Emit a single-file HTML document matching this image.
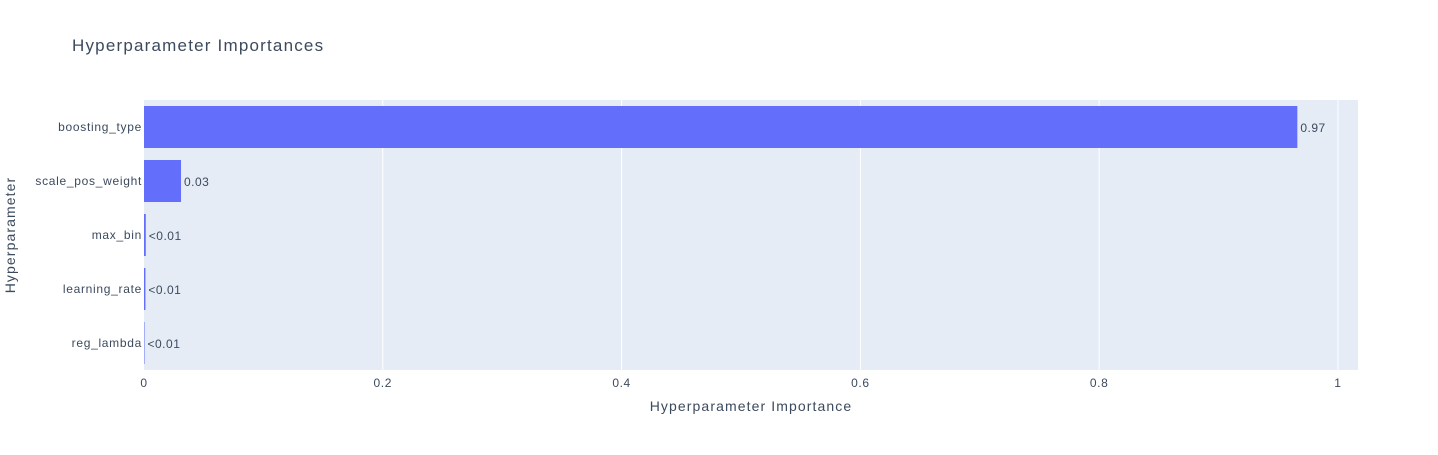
<!DOCTYPE html>
<html><head><meta charset="utf-8"><style>
body{margin:0;background:#fff;font-family:"Liberation Sans",Arial,sans-serif;}
svg text{font-family:"Liberation Sans",Arial,sans-serif;fill:#3c4a5e;}
</style></head><body>
<svg id="chart" width="1438" height="450" xmlns="http://www.w3.org/2000/svg">
<rect width="1438" height="450" fill="#fff"/>
<text x="72" y="51" font-size="17" letter-spacing="1.2">Hyperparameter Importances</text>
<rect x="144" y="100" width="1214" height="270" fill="#e5ecf6"/>
<g id="grid"></g><g id="bars"></g><g id="labels"></g>
<text x="751" y="411" font-size="14" letter-spacing="1.1" text-anchor="middle">Hyperparameter Importance</text>
<text transform="translate(15,235) rotate(-90)" font-size="14" letter-spacing="1.1" text-anchor="middle">Hyperparameter</text>
</svg>
<script>
const categories=["boosting_type","scale_pos_weight","max_bin","learning_rate","reg_lambda"];
const values=[0.966,0.031,0.0015,0.0012,0.0004];
const valueLabels=["0.97","0.03","<0.01","<0.01","<0.01"];
const xTicks=[0,0.2,0.4,0.6,0.8,1];
const xTickLabels=["0","0.2","0.4","0.6","0.8","1"];
const NS="http://www.w3.org/2000/svg";
const x0=144,x1=1358,xMax=1.0168,yTop=100,yH=270;
const xs=v=>x0+v/xMax*(x1-x0);
const band=yH/categories.length;
const yc=i=>yTop+band*(i+0.5);
function mk(t,a,p){const e=document.createElementNS(NS,t);for(const k in a)e.setAttribute(k,a[k]);p.appendChild(e);return e;}
const grid=document.getElementById('grid'),bars=document.getElementById('bars'),labels=document.getElementById('labels');
xTicks.forEach((t,i)=>{
 if(t>0){const l=mk('line',{x1:xs(t),x2:xs(t),y1:yTop,y2:yTop+yH,stroke:'#fff','stroke-width':1},grid);
 
 }
 const tx=mk('text',{x:xs(t),y:387,'font-size':12,'text-anchor':'middle','letter-spacing':0.6},labels);tx.textContent=xTickLabels[i];
 
 
});
categories.forEach((c,i)=>{
 const w=Math.max(xs(values[i])-x0,0.5);
 const r=mk('rect',{x:x0,y:yc(i)-21,width:w,height:42,fill:'#636efa'},bars);
 
 
 const tl=mk('text',{x:x0-2,y:yc(i)+4,'font-size':12,'text-anchor':'end','letter-spacing':0.7},labels);tl.textContent=c;
 
 
 const vl=mk('text',{x:x0+w+3,y:yc(i)+5,'font-size':12,'letter-spacing':0.5},labels);vl.textContent=valueLabels[i];
 
 
});
</script>
</body></html>
